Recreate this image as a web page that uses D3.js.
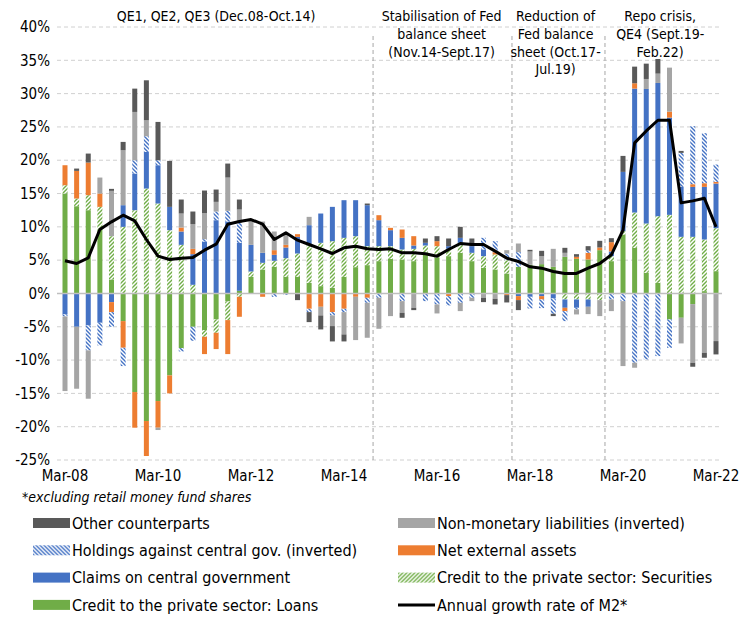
<!DOCTYPE html>
<html>
<head>
<meta charset="utf-8">
<script src="https://cdn.jsdelivr.net/npm/d3@7"></script>
<style>
  body { margin: 0; background: #fff; }
  svg text { font-family: "Liberation Sans Narrow", "DejaVu Sans Condensed", sans-serif; fill: #000; }
</style>
</head>
<body>
<svg id="chart" width="739" height="622"></svg>
<script>
// quarters Mar-08 .. Mar-22
var quarters = [];
for (var yr = 8; yr <= 22; yr++) {
  ['Mar', 'Jun', 'Sep', 'Dec'].forEach(function (m) {
    if (yr === 22 && m !== 'Mar') return;
    quarters.push(m + '-' + (yr < 10 ? '0' + yr : yr));
  });
}
var tickLabels = ['Mar-08', 'Mar-10', 'Mar-12', 'Mar-14', 'Mar-16', 'Mar-18', 'Mar-20', 'Mar-22'];
var yTicks = [40, 35, 30, 25, 20, 15, 10, 5, 0, -5, -10, -15, -20, -25];

// contributions, percentage points
var loans = [15, 13.1, 12.5, 9.6, 2.1, -4.15, -14.8, -19.15, -16.15, -12.3, -8.2, -5, -5.5, -3.9, -1.2, 0.4,
  2.5, 3.6, 4, 2.5, 2.5, 1.6, 1.1, 0.85, 2.5, 3.95, 4.25, 4.85, 5.2, 5.1, 4.85, 6.1,
  5.35, 5.6, 6.1, 4.85, 3.85, 3.6, 3, 4, 4.3, 4.4, 4, 5.5, 5.2, 5.1, 6.5, 4.85,
  8.85, 6.85, 3.1, 1.6, -3.9, -3.65, -1.6, 0.35, 3.35];
var securities = [1.25, 1.15, 2.25, 3.4, 6.5, 10, 12.5, 15.75, 13.5, 9.5, 7.3, 1.3, -1, -2, -2.8, -0.5,
  0.8, 1, 0.9, 2.8, 3.5, 5.75, 6.5, 7, 5.85, 4.65, 2.85, 2.25, 1.9, 1.5, 1.85, 1.1,
  1.75, 1.1, 1.5, 1.25, 1.75, 2.25, 2, 0, 0, 0, 0, -0.9, -0.9, -0.9, -1, 0.75,
  0.5, 5.3, 7.4, 10, 11.8, 8.5, 8.5, 7.75, 6.45];
var claims = [-3.15, -5, -4.8, -4.4, -1.3, 3.25, 5.5, 5.5, 5.75, 3.5, 2, 4.6, 7.8, 11, 10.8, 7.2,
  4, 1.5, 0.9, 1.6, 2.5, 2.9, 4.4, 5.15, 5.65, 5.4, 6.15, 3.9, 2.4, 1.75, 0.5, 0.4,
  0, 0.4, 0.75, 1, 1, 0, 0, -0.4, -0.5, -0.4, -0.75, -1.25, -1.25, -1.1, 0, 0.7,
  8.9, 18.6, 20.2, 20, 14.6, 7.5, 7.5, 7.9, 6.7];
var netExternal = [3, 4.15, 4.9, 2, -1.5, -4, -5.35, -5.25, -4, -2.7, 0.6, 0.8, -2.6, -2.45, -5.1, -3,
  0, -0.5, 0.7, 0.4, 0.4, -2.3, -2, -2.8, -2.3, -0.5, -0.65, 0.75, 0.35, 1.25, 1.4, 0,
  0.75, -0.4, 0, 0, 0, 0.35, -0.25, -0.6, 0, -0.5, 0, -0.5, 0.3, 1, 0.4, 1.4,
  0, 0.8, 0, 0, 0.9, 0, 0.4, 0.55, 0.25];
var holdings = [-0.3, 0, -3.75, -3.4, -2.2, -2.75, 2, 2.35, 0.75, 0, -0.5, -2.1, 0.35, 1.3, 1.6, 3,
  0, 0, -0.5, -0.2, 0, -0.5, 0, -0.5, -0.5, 0, -0.75, -0.65, 0, -1.15, 0, -1.15,
  -1.65, -1.4, -1.4, -0.65, 1.75, 1.65, 1, 2.2, -1.75, -1.3, -2.3, -1.5, -0.25, 0.35, 0, -0.9,
  -1.15, -10.4, -9.9, -9.4, -4.25, 5.1, 8.7, 7.5, 2.6];
var nonMonetary = [-11.2, -9.3, -7.25, 2.4, 6.8, 8.25, 7.25, 2.4, -0.35, 0, 2.1, 3.7, 3.9, 1.45, 5, 2,
  3.7, 4.7, 2.8, 1.5, 0, 1.25, -1.3, -1.6, -3.35, -6.5, -5.25, -4.65, -3.4, -1.75, -2.15, 0,
  -1.35, 0, -1.25, -0.5, -0.65, -0.8, 0.5, 1.3, 2, 1.2, 2.7, 0.6, -0.75, -1.1, -2.4, -1.75,
  -9.75, -0.75, 1.5, 1.4, 6.6, -3.85, -8.8, -8.9, -7.15];
var other = [0, 0.35, 1.35, 0, 0.3, 1.25, 3.5, 6, 5.75, 6.9, 2.1, 1.9, 3.4, 1.85, 2.1, 1.5,
  0, 0, 0, 0, -1, -1.5, -2.1, -2.3, -1.05, 0, 0.25, 0, 0, -0.75, -0.35, 0.65,
  0.75, 1.15, 1.65, 1.15, -0.65, -0.85, -1.1, -1.5, 0.25, 0.8, -0.35, 0.75, 0.4, 0.65, 1, 0.6,
  2.4, 2.5, 2.3, 2.2, 0, 0.3, -0.6, -0.75, -2];
var m2Growth = [4.9, 4.5, 5.35, 9.6, 10.75, 11.75, 10.9, 8.1, 5.6, 5.1, 5.3, 5.4, 6.5, 7.4, 10.4, 10.8,
  11.1, 10.4, 8.1, 9.1, 8, 7.35, 6.7, 6, 6.85, 7.1, 6.7, 6.6, 6.7, 6.1, 6.1, 5.95,
  5.6, 6.6, 7.5, 7.35, 7.35, 6.35, 5.3, 4.8, 4, 3.8, 3.3, 3, 3, 3.8, 4.5, 5.8,
  9.5, 22.6, 24.4, 26, 26, 13.6, 13.9, 14.3, 10];

// phase boundaries, as fractional quarter positions
var phaseBreaks = [26.5, 38.45, 46.45];
var phaseNotes = [
  { at: 13.0, lines: ['QE1, QE2, QE3 (Dec.08-Oct.14)'] },
  { at: 32.4, lines: ['Stabilisation of Fed', 'balance sheet', '(Nov.14-Sept.17)'] },
  { at: 42.2, lines: ['Reduction of', 'Fed balance', 'sheet (Oct.17-', 'Jul.19)'] },
  { at: 51.2, lines: ['Repo crisis,', 'QE4 (Sept.19-', 'Feb.22)'] }
];

var seriesKeys = ['loans', 'securities', 'claims', 'netExternal', 'holdings', 'nonMonetary', 'other'];
var seriesData = { loans: loans, securities: securities, claims: claims, netExternal: netExternal,
  holdings: holdings, nonMonetary: nonMonetary, other: other };
var fills = { loans: '#70ad47', securities: 'url(#hatchGreen)', claims: '#4472c4', netExternal: '#ed7d31',
  holdings: 'url(#hatchBlue)', nonMonetary: '#a5a5a5', other: '#595959' };

var table = quarters.map(function (q, i) {
  var row = { q: q };
  seriesKeys.forEach(function (k) { row[k] = seriesData[k][i]; });
  return row;
});

var svg = d3.select('#chart');
var defs = svg.append('defs');

function hatch(id, color, dir) {
  var p = defs.append('pattern').attr('id', id).attr('patternUnits', 'userSpaceOnUse')
    .attr('width', 4).attr('height', 4);
  p.append('rect').attr('width', 4).attr('height', 4).attr('fill', '#fff');
  if (dir > 0) {
    p.append('path').attr('d', 'M-1,1 l2,-2 M0,4 l4,-4 M3,5 l2,-2');
  } else {
    p.append('path').attr('d', 'M-1,3 l2,2 M0,0 l4,4 M3,-1 l2,2');
  }
  p.select('path').attr('stroke', color).attr('stroke-width', 1.4);
}
hatch('hatchGreen', '#70ad47', 1);
hatch('hatchBlue', '#4472c4', -1);

var x = d3.scalePoint().domain(quarters).range([65, 716]);
var step = x.step();
var y = d3.scaleLinear().domain([-25, 40]).range([460, 27]);
var barW = 5;
var left = 57, right = 722;

function xAt(pos) { return x(quarters[0]) + pos * step; }

// grid
svg.append('g').selectAll('line').data(yTicks.filter(function (t) { return t !== 0; })).join('line')
  .attr('x1', left).attr('x2', right)
  .attr('y1', function (d) { return y(d); }).attr('y2', function (d) { return y(d); })
  .attr('stroke', '#d0d0d0').attr('stroke-width', 1).attr('stroke-dasharray', '4,3');

// y axis labels
svg.append('g').selectAll('text').data(yTicks).join('text')
  .attr('x', 50).attr('y', function (d) { return y(d); }).attr('dy', '0.35em')
  .attr('text-anchor', 'end').attr('font-size', 15)
  .text(function (d) { return d + '%'; });

// phase separators
svg.append('g').selectAll('line').data(phaseBreaks).join('line')
  .attr('x1', xAt).attr('x2', xAt)
  .attr('y1', 36).attr('y2', 460)
  .attr('stroke', '#a6a6a6').attr('stroke-width', 1).attr('stroke-dasharray', '4,3');

// stacked bars
var stack = d3.stack().keys(seriesKeys).offset(d3.stackOffsetDiverging);
var layers = stack(table);

svg.append('g').selectAll('g').data(layers).join('g')
  .attr('fill', function (d) { return fills[d.key]; })
  .selectAll('rect').data(function (d) { return d; }).join('rect')
  .attr('x', function (d) { return x(d.data.q) - barW / 2; })
  .attr('width', barW)
  .attr('y', function (d) { return y(Math.max(d[0], d[1])); })
  .attr('height', function (d) { return Math.abs(y(d[0]) - y(d[1])); });

// zero line
svg.append('line').attr('x1', left).attr('x2', right).attr('y1', y(0)).attr('y2', y(0))
  .attr('stroke', '#bfbfbf').attr('stroke-width', 1.5);

// M2 line
var line = d3.line().x(function (d, i) { return x(quarters[i]); }).y(function (d) { return y(d); });
svg.append('path').datum(m2Growth).attr('d', line)
  .attr('fill', 'none').attr('stroke', '#000').attr('stroke-width', 3).attr('stroke-linejoin', 'round');

// x axis labels
svg.append('g').selectAll('text').data(tickLabels).join('text')
  .attr('x', function (d) { return x(d); }).attr('y', 476).attr('dy', '0.35em')
  .attr('text-anchor', 'middle').attr('font-size', 15)
  .text(function (d) { return d; });

// phase notes
phaseNotes.forEach(function (n) {
  var t = svg.append('text').attr('text-anchor', 'middle').attr('font-size', 14);
  n.lines.forEach(function (s, i) {
    t.append('tspan').attr('x', xAt(n.at)).attr('y', 21 + i * 17.8).text(s);
  });
});

// footnote
svg.append('text').attr('x', 22).attr('y', 497).attr('dy', '0.35em')
  .attr('font-size', 14).attr('font-style', 'italic')
  .text('*excluding  retail money fund shares');

// legend
var legendItems = [
  { key: 'other', label: 'Other counterparts' },
  { key: 'nonMonetary', label: 'Non-monetary liabilities (inverted)' },
  { key: 'holdings', label: 'Holdings against central gov. (inverted)' },
  { key: 'netExternal', label: 'Net external assets' },
  { key: 'claims', label: 'Claims on central government' },
  { key: 'securities', label: 'Credit to the private sector: Securities' },
  { key: 'loans', label: 'Credit to the private sector: Loans' },
  { key: 'm2', label: 'Annual growth rate of M2*' }
];
var lg = svg.append('g').selectAll('g').data(legendItems).join('g')
  .attr('transform', function (d, i) {
    return 'translate(' + (i % 2 === 0 ? 33 : 398) + ',' + (523 + Math.floor(i / 2) * 27.3) + ')';
  });
lg.filter(function (d) { return d.key !== 'm2'; }).append('rect')
  .attr('x', 0).attr('y', -5).attr('width', 37).attr('height', 10)
  .attr('fill', function (d) { return fills[d.key]; });
lg.filter(function (d) { return d.key === 'm2'; }).append('line')
  .attr('x1', 0).attr('x2', 37).attr('y1', 0).attr('y2', 0)
  .attr('stroke', '#000').attr('stroke-width', 3);
lg.append('text').attr('x', 39).attr('y', 0).attr('dy', '0.35em').attr('font-size', 16)
  .text(function (d) { return d.label; });
</script>
</body>
</html>
